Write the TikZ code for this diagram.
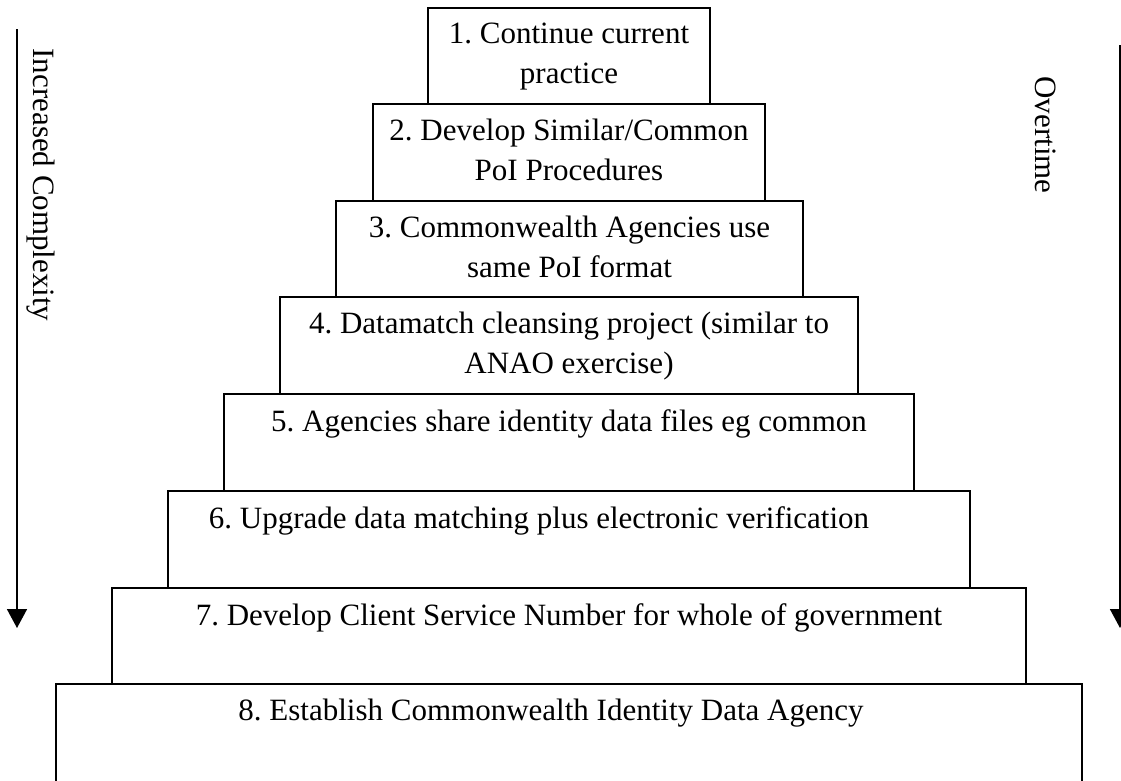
\documentclass[tikz,border=0pt]{standalone}
\usepackage{fontspec}
\setmainfont{Liberation Serif}
\usetikzlibrary{arrows.meta}
\frenchspacing

\begin{document}
\begin{tikzpicture}[
      x=1pt, y=-1pt,
      every node/.style={font=\fontsize{31}{40}\selectfont},
      stepbox/.style={draw=black, line width=1.6pt, fill=white, inner sep=0pt},
      steptext/.style={anchor=north, align=center, inner sep=0pt, yshift=-16pt},
      sidearrow/.style={line width=1.6pt, -{Triangle[width=20pt,length=19pt]}}
    ]
    \useasboundingbox (0,0) rectangle (1121,780);
    \clip (0,0) rectangle (1121,780);

    % the steps, widest at the bottom
    \node[stepbox, minimum width=1026pt, minimum height=100pt] (s8) at (569,734) {};
    \node[stepbox, minimum width=914pt, minimum height=96pt] (s7) at (569,636) {};
    \node[stepbox, minimum width=802pt, minimum height=97pt] (s6) at (569,539.5) {};
    \node[stepbox, minimum width=690pt, minimum height=97pt] (s5) at (569,442.5) {};
    \node[stepbox, minimum width=578pt, minimum height=97pt] (s4) at (569,345.5) {};
    \node[stepbox, minimum width=467pt, minimum height=96pt] (s3) at (569.5,249) {};
    \node[stepbox, minimum width=392pt, minimum height=97pt] (s2) at (569,152.5) {};
    \node[stepbox, minimum width=282pt, minimum height=96pt] (s1) at (569,56) {};

    \node[steptext] (t1) at (s1.north) {1. Continue current\\practice};
    \node[steptext] (t2) at (s2.north) {2. Develop Similar/Common\\PoI Procedures};
    \node[steptext] (t3) at (s3.north) {3. Commonwealth Agencies use\\same PoI format};
    \node[steptext] (t4) at (s4.north) {4. Datamatch cleansing project (similar to\\ANAO exercise)};
    \node[steptext] (t5) at (s5.north) {5. Agencies share identity data files eg common};
    \node[steptext, xshift=-30pt] (t6) at (s6.north) {6. Upgrade data matching plus electronic verification};
    \node[steptext] (t7) at (s7.north) {7. Develop Client Service Number for whole of government};
    \node[steptext, xshift=-18pt] (t8) at (s8.north) {8. Establish Commonwealth Identity Data Agency};

    % side arrows
    \coordinate (ltop) at (17,29);
    \coordinate (lend) at (17,628);
    \coordinate (rtop) at (1120,45);
    \coordinate (rend) at (1120,628);
    \draw[sidearrow] (ltop) -- (lend);
    \draw[sidearrow] (rtop) -- (rend);

    \node[rotate=-90] (complexity) at (41,185) {Increased Complexity};
    \node[rotate=-90] (overtime) at (1046,135) {Overtime};

  \end{tikzpicture}
\end{document}
